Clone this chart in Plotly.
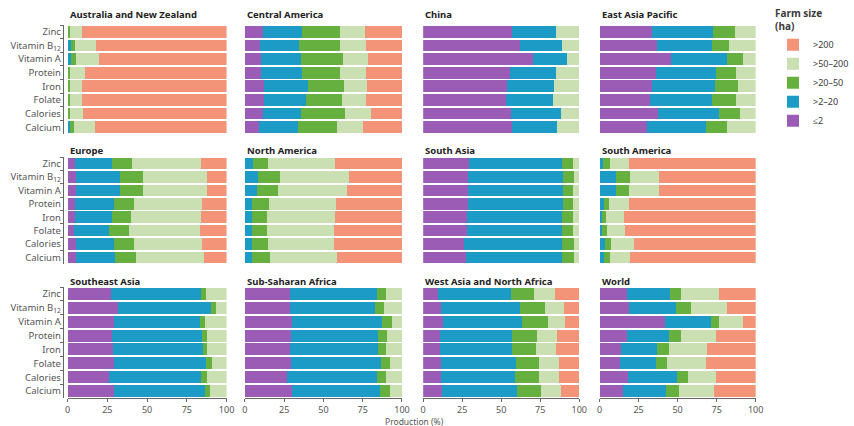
import plotly.graph_objects as go

# Nutrient rows (top to bottom)
nutrients = ["Zinc", "Vitamin B<sub>12</sub>", "Vitamin A", "Protein",
             "Iron", "Folate", "Calories", "Calcium"]

# Farm-size classes (stacking order, left to right)
farm_sizes = ["≤2", ">2–20", ">20–50", ">50–200", ">200"]
farm_colors = ["#9a5cb4", "#1b9bc6", "#66b03f", "#cadfb2", "#f39378"]

# Share of production (%) per nutrient row: [≤2, >2–20, >20–50, >50–200, >200]
australia_nz = [
    [0, 0.3, 1.1, 7.9, 90.7], [0, 2.0, 2.7, 13.3, 82.0], [0, 2.0, 3.0, 14.5, 80.5],
    [0, 0.3, 1.3, 9.4, 89.0], [0, 0.3, 1.1, 7.4, 91.2], [0, 0.3, 1.1, 7.9, 90.7],
    [0, 0.3, 1.1, 8.3, 90.3], [0, 1.4, 2.6, 13.0, 83.0]]
central_america = [
    [11.3, 25.2, 24.1, 16.0, 23.4], [9.7, 24.8, 26.1, 16.8, 22.6], [10.3, 25.6, 26.7, 16.0, 21.4],
    [10.3, 26.0, 24.3, 16.4, 23.0], [11.9, 28.1, 23.2, 14.8, 22.0], [12.3, 26.7, 22.6, 15.4, 23.0],
    [11.3, 24.6, 27.8, 16.3, 20.0], [9.2, 24.7, 24.6, 16.9, 24.6]]
china = [
    [56.7, 28.3, 0, 15.0, 0], [62.3, 26.4, 0, 11.3, 0], [70.1, 22.3, 0, 7.6, 0],
    [55.5, 29.5, 0, 15.0, 0], [54.0, 29.5, 0, 16.5, 0], [53.0, 29.9, 0, 17.1, 0],
    [56.0, 32.0, 0, 12.0, 0], [56.7, 29.3, 0, 14.0, 0]]
east_asia_pacific = [
    [33.5, 39.1, 14.4, 13.0, 0], [37.0, 35.0, 10.9, 17.1, 0], [45.9, 35.6, 10.1, 8.4, 0],
    [36.2, 38.1, 13.4, 12.3, 0], [33.9, 39.8, 14.8, 11.5, 0], [32.1, 40.1, 15.2, 12.6, 0],
    [37.7, 38.6, 13.7, 10.0, 0], [30.5, 37.4, 13.6, 18.5, 0]]
europe = [
    [4.7, 23.1, 12.8, 43.3, 16.1], [5.6, 27.6, 14.2, 40.2, 12.4], [5.6, 27.6, 14.2, 40.2, 12.4],
    [4.7, 24.2, 12.7, 42.9, 15.5], [4.7, 23.1, 12.4, 43.7, 16.1], [4.1, 22.1, 12.4, 44.5, 16.9],
    [5.2, 24.1, 12.6, 42.6, 15.5], [5.2, 24.7, 13.2, 42.5, 14.4]]
north_america = [
    [0.3, 4.8, 9.9, 42.5, 42.5], [0.3, 7.9, 14.4, 43.7, 33.7], [0.3, 7.3, 13.5, 44.0, 34.9],
    [0.3, 4.4, 10.7, 42.7, 41.9], [0.3, 4.4, 9.5, 42.9, 42.9], [0.3, 4.2, 9.7, 42.7, 43.1],
    [0.3, 4.4, 9.9, 42.3, 43.1], [0.3, 4.4, 11.1, 43.1, 41.1]]
south_asia = [
    [29.3, 59.7, 6.7, 4.3, 0], [28.7, 60.8, 7.2, 3.3, 0], [28.7, 60.8, 6.4, 4.1, 0],
    [28.7, 60.8, 6.4, 4.1, 0], [28.2, 60.8, 6.8, 4.2, 0], [28.2, 60.8, 7.2, 3.8, 0],
    [26.2, 62.5, 7.6, 3.7, 0], [27.2, 61.8, 7.3, 3.7, 0]]
south_america = [
    [0.5, 1.8, 4.1, 12.7, 80.9], [0.5, 9.8, 9.2, 18.5, 62.0], [0.5, 9.8, 8.8, 18.8, 62.1],
    [0.5, 2.2, 3.5, 12.5, 81.3], [0.5, 1.1, 2.7, 11.3, 84.4], [0.5, 1.1, 3.3, 11.6, 83.5],
    [0.5, 2.8, 4.1, 14.4, 78.2], [0.5, 2.6, 3.9, 12.8, 80.2]]
southeast_asia = [
    [27.4, 56.5, 3.1, 13.0, 0], [31.5, 58.8, 3.1, 6.6, 0], [28.9, 54.6, 2.7, 13.8, 0],
    [27.8, 56.7, 3.1, 12.4, 0], [28.5, 56.4, 2.7, 12.4, 0], [29.5, 57.7, 3.7, 9.1, 0],
    [25.8, 58.3, 3.5, 12.4, 0], [29.5, 56.7, 3.1, 10.7, 0]]
sub_saharan_africa = [
    [28.5, 55.6, 5.6, 10.3, 0], [28.9, 54.2, 5.6, 11.3, 0], [29.9, 57.3, 6.2, 6.6, 0],
    [29.5, 55.4, 5.4, 9.7, 0], [28.9, 55.6, 5.6, 9.9, 0], [29.5, 57.1, 5.8, 7.6, 0],
    [26.8, 57.1, 5.8, 10.3, 0], [29.9, 56.1, 6.2, 7.8, 0]]
west_asia_north_africa = [
    [9.7, 46.4, 15.0, 13.4, 15.5], [11.3, 50.6, 16.2, 12.0, 9.9], [12.4, 50.9, 16.5, 11.3, 8.9],
    [10.7, 46.4, 15.5, 13.0, 14.4], [10.7, 46.0, 15.5, 12.7, 15.1], [11.3, 47.9, 15.0, 12.8, 13.0],
    [11.1, 47.7, 15.2, 13.0, 13.0], [11.8, 48.0, 15.9, 12.3, 12.0]]
world = [
    [17.5, 27.4, 7.6, 23.8, 23.7], [18.7, 30.3, 9.6, 23.3, 18.1], [41.8, 29.8, 5.1, 15.1, 8.2],
    [17.5, 26.9, 7.7, 22.6, 25.3], [13.6, 23.4, 7.2, 24.9, 30.9], [13.0, 23.2, 7.0, 24.7, 32.1],
    [18.1, 31.3, 7.0, 17.9, 25.7], [15.0, 27.4, 8.2, 22.7, 26.7]]

regions = [
    ("Australia and New Zealand", australia_nz),
    ("Central America", central_america),
    ("China", china),
    ("East Asia Pacific", east_asia_pacific),
    ("Europe", europe),
    ("North America", north_america),
    ("South Asia", south_asia),
    ("South America", south_america),
    ("Southeast Asia", southeast_asia),
    ("Sub-Saharan Africa", sub_saharan_africa),
    ("West Asia and North Africa", west_asia_north_africa),
    ("World", world),
]

W, H = 854, 426
col_px = [(67, 232), (251, 414), (436, 598), (619, 781)]
row_px = [(25, 134), (157, 264), (287, 398)]
title_y_px = [15, 150, 281]

FONT = "Noto Sans"
TEXT = "#3a3a3a"

fig = go.Figure()
layout = dict(
    width=W, height=H, margin=dict(l=0, r=0, t=0, b=0),
    paper_bgcolor="white", plot_bgcolor="white",
    barmode="stack", bargap=0.14,
    font=dict(family=FONT, size=9, color=TEXT),
    showlegend=True,
    legend=dict(
        x=0.936, y=0.99, xanchor="left", yanchor="top",
        traceorder="reversed", font=dict(size=9, color=TEXT),
        title=dict(text="<b>Farm size<br>(ha)</b>", font=dict(size=10, color=TEXT)),
        itemwidth=30, tracegroupgap=0, bgcolor="rgba(0,0,0,0)",
    ),
)
annotations = []

for i, (name, rows) in enumerate(regions):
    r, c = divmod(i, 4)
    n = i + 1
    xa = "x" if n == 1 else f"x{n}"
    ya = "y" if n == 1 else f"y{n}"
    for k, size in enumerate(farm_sizes):
        fig.add_trace(go.Bar(
            y=nutrients, x=[row[k] for row in rows], orientation="h",
            name=size, marker=dict(color=farm_colors[k], line=dict(width=0)),
            xaxis=xa, yaxis=ya, legendgroup=size, showlegend=(i == 0),
            hovertemplate="%{y}: %{x}%<extra>" + size + "</extra>",
        ))

    x0, x1 = col_px[c]
    y0, y1 = row_px[r]
    bottom = (r == 2)
    layout[f"xaxis{n}" if n > 1 else "xaxis"] = dict(
        domain=[x0 / W, x1 / W], anchor=ya, range=[0, 100],
        showgrid=False, zeroline=False,
        showline=bottom, linecolor="#666", linewidth=1,
        ticks="outside" if bottom else "", ticklen=3, tickcolor="#666",
        tickvals=[0, 25, 50, 75, 100], showticklabels=bottom,
        tickfont=dict(size=9, color="#555"),
    )
    ycfg = dict(
        domain=[1 - y1 / H, 1 - y0 / H], autorange="reversed",
        showgrid=False, zeroline=False,
        categoryorder="array", categoryarray=nutrients,
    )
    if c == 0:
        ycfg.update(anchor="free", position=62 / W, showline=True,
                    linecolor="#666", linewidth=1, ticks="outside",
                    ticklen=3, tickcolor="#666", tickson="boundaries",
                    showticklabels=True, tickfont=dict(size=9.5, color="#555"))
    else:
        ycfg.update(anchor=xa, showline=False, ticks="", showticklabels=False)
    layout[f"yaxis{n}" if n > 1 else "yaxis"] = ycfg

    annotations.append(dict(
        text=f"<b>{name}</b>", x=x0 / W, y=1 - title_y_px[r] / H,
        xref="paper", yref="paper", xanchor="left", yanchor="middle",
        showarrow=False, font=dict(size=9.5, color="#222"),
    ))

annotations.append(dict(
    text="Production (%)", x=427 / W, y=1 - 421 / H, xref="paper", yref="paper",
    xanchor="center", yanchor="middle", showarrow=False,
    font=dict(size=8.5, color="#555"),
))
layout["annotations"] = annotations
fig.update_layout(**layout)

fig.write_html("out.html")
